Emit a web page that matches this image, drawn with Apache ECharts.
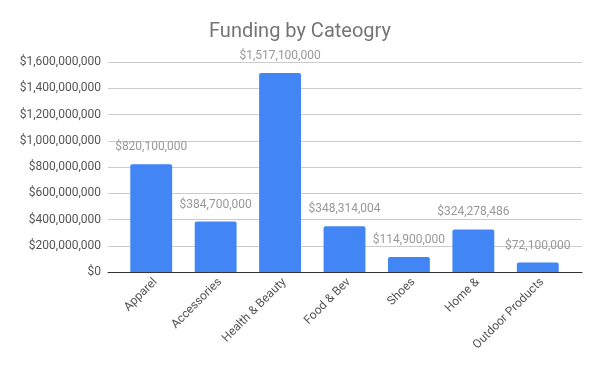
<!DOCTYPE html>
<html><head><meta charset="utf-8">
<script src="https://cdn.jsdelivr.net/npm/echarts@6/dist/echarts.min.js"></script>
<style>html,body{margin:0;padding:0;background:#fff}#c{width:600px;height:371px}</style>
</head><body><div id="c"></div>
<script>
const categories = ["Apparel","Accessories","Health & Beauty","Food & Bev","Shoes","Home &","Outdoor Products"];
const funding = [820100000,384700000,1517100000,348314004,114900000,324278486,72100000];
const yTicks = [0,200000000,400000000,600000000,800000000,1000000000,1200000000,1400000000,1600000000];
const fmt = v => '$' + Math.round(v).toLocaleString('en-US');
const chart = echarts.init(document.getElementById('c'), null, {renderer:'canvas'});
const yMin = yTicks[0], yMax = yTicks[yTicks.length-1];
chart.setOption({
  animation:false,
  title:{text:'Funding by Cateogry',left:'center',top:17,textStyle:{fontFamily:'Roboto',fontSize:20,fontWeight:'normal',color:'#757575'}},
  grid:[
    {left:108,right:18,top:62,bottom:99},
    {left:119,right:30,top:62,bottom:99}
  ],
  xAxis:[
    {type:'value',gridIndex:0,min:0,max:1,axisLabel:{show:false},axisTick:{show:false},splitLine:{show:false},
      axisLine:{show:true,lineStyle:{color:'#333',width:1}}},
    {type:'category',gridIndex:1,data:categories,
      axisLine:{show:false},axisTick:{show:false},
      axisLabel:{rotate:45,interval:0,color:'#555',fontFamily:'Roboto',fontSize:12,margin:4,verticalAlign:'top'}}
  ],
  yAxis:[
    {type:'value',gridIndex:0,min:yMin,max:yMax,interval:200000000,
      axisLine:{show:false},axisTick:{show:false},
      splitLine:{lineStyle:{color:'#cccccc'}},
      axisLabel:{formatter:fmt,color:'#555',fontFamily:'Roboto',fontSize:12,margin:7}},
    {type:'value',gridIndex:1,min:yMin,max:yMax,interval:200000000,show:false,splitLine:{show:false}}
  ],
  series:[{type:'bar',xAxisIndex:1,yAxisIndex:1,data:funding,barWidth:'65%',z:3,
    itemStyle:{color:'#4285F4',borderRadius:[2,2,0,0]},
    label:{show:true,position:'top',distance:11,formatter:p=>fmt(p.value),color:'#999',fontFamily:'Roboto',fontSize:12}}]
});
</script></body></html>
